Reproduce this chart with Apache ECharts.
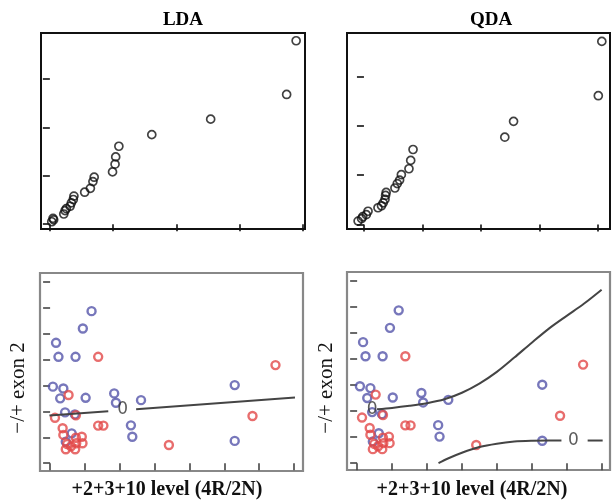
<!DOCTYPE html>
<html><head><meta charset="utf-8">
<script src="https://cdn.jsdelivr.net/npm/echarts@6/dist/echarts.min.js"></script>
<style>html,body{margin:0;padding:0;background:#fff}#c{width:614px;height:500px}</style>
</head><body><div id="c"></div>
<script>
// ---- data (in tick units) ----
const panelTitles = ['LDA', 'QDA'];
const xAxisTitle = '+2+3+10 level (4R/2N)';
const yAxisTitle = '\u2212/+ exon 2';
const topXTicks = [0, 1, 2, 3, 4];
const topYTicks = [0, 1, 2, 3];
const bottomTicks = [0, 1, 2, 3, 4, 5, 6, 7];

const ldaPoints = [[0.03,0.05],[0.05,0.12],[0.06,0.09],[0.22,0.21],[0.24,0.28],[0.26,0.32],[0.32,0.37],[0.34,0.44],[0.37,0.51],[0.38,0.58],[0.55,0.66],[0.64,0.74],[0.68,0.88],[0.70,0.97],[0.99,1.08],[1.03,1.24],[1.04,1.39],[1.09,1.61],[1.61,1.85],[2.54,2.17],[3.74,2.68],[3.89,3.79]];
const qdaPoints = [[-0.10,0.07],[-0.04,0.12],[-0.02,0.16],[0.04,0.20],[0.07,0.27],[0.24,0.34],[0.30,0.38],[0.33,0.44],[0.36,0.51],[0.37,0.59],[0.38,0.65],[0.53,0.74],[0.57,0.83],[0.61,0.90],[0.64,1.01],[0.77,1.13],[0.80,1.30],[0.84,1.52],[2.41,1.77],[2.56,2.09],[4.01,2.61],[4.07,3.71]];

const bluePoints = [[1.19,5.86],[0.94,5.19],[0.17,4.64],[0.24,4.10],[0.73,4.10],[0.08,2.95],[0.38,2.88],[0.29,2.50],[1.02,2.52],[1.84,2.69],[1.89,2.33],[2.61,2.43],[0.43,1.96],[0.71,1.88],[2.32,1.46],[2.36,1.02],[0.62,1.15],[0.45,0.83],[5.30,3.01],[5.30,0.86]];
const redPoints = [[1.38,4.10],[6.47,3.78],[0.53,2.63],[0.14,1.75],[0.74,1.85],[1.38,1.45],[1.53,1.45],[0.36,1.35],[0.38,1.09],[5.81,1.82],[3.41,0.70],[0.74,0.98],[0.91,1.02],[0.93,0.77],[0.75,0.77],[0.49,0.74],[0.45,0.54],[0.72,0.54],[0.60,0.65]];

const ldaBoundaryA = [[-0.02,1.84],[1.67,2.00]];
const ldaBoundaryB = [[2.47,2.08],[7.03,2.53]];
const ldaLabel = [[2.08,2.05]];

const qdaUpper = [[0.57,2.07],[1.0,2.12],[1.5,2.2],[2.0,2.3],[2.5,2.45],[3.0,2.7],[3.5,3.05],[4.0,3.5],[4.5,4.05],[5.0,4.62],[5.5,5.17],[6.0,5.65],[6.5,6.12],[7.0,6.65]];
const qdaUpperLabel = [[0.43,2.07]];
const qdaLowerA = [[2.33,0.0],[2.6,0.18],[3.0,0.4],[3.5,0.62],[4.0,0.75],[4.5,0.83],[5.0,0.86],[5.5,0.87],[5.85,0.87]];
const qdaLowerB = [[6.6,0.87],[7.03,0.87]];
const qdaLowerLabel = [[6.19,0.87]];

// ---- chart ----
const chart = echarts.init(document.getElementById('c'), null, {renderer: 'canvas'});
const serif = '"Liberation Serif", "Times New Roman", serif';

function ax(grid, min, max, ticks, color) {
  return {type: 'value', gridIndex: grid, min: min, max: max,
    axisLine: {show: false}, splitLine: {show: false},
    axisLabel: {show: false},
    axisTick: {show: true, inside: false, length: 7, customValues: ticks, lineStyle: {color: color, width: 1.6}}};
}

const topCircle = (data, idx) => ({type: 'scatter', xAxisIndex: idx, yAxisIndex: idx, data: data,
  symbol: 'circle', symbolSize: 8, itemStyle: {color: 'transparent', borderColor: '#111', borderWidth: 1.7}});
const colCircle = (data, idx, col) => ({type: 'scatter', xAxisIndex: idx, yAxisIndex: idx, data: data,
  symbol: 'circle', symbolSize: 8, itemStyle: {color: 'transparent', borderColor: col, borderWidth: 2.4}, z: 3});
const bLine = (data, idx) => ({type: 'line', xAxisIndex: idx, yAxisIndex: idx, data: data, showSymbol: false,
  smooth: 0.3, lineStyle: {color: '#444', width: 2}, z: 4});
const zeroLbl = (data, idx) => ({type: 'scatter', xAxisIndex: idx, yAxisIndex: idx, data: data,
  symbolSize: 1, itemStyle: {color: 'transparent'},
  label: {show: true, position: 'inside', formatter: '0', color: '#333', fontSize: 17, fontFamily: 'DejaVu Sans'}, z: 5});

const option = {
  backgroundColor: '#fff',
  animation: false,
  title: [
    {text: panelTitles[0], left: 178, top: 6, textAlign: 'center', textStyle: {fontFamily: serif, fontWeight: 'bold', fontSize: 19, color: '#000'}},
    {text: panelTitles[1], left: 486, top: 6, textAlign: 'center', textStyle: {fontFamily: serif, fontWeight: 'bold', fontSize: 19, color: '#000'}}
  ],
  grid: [
    {left: 41, top: 33, width: 264, height: 196, show: true, borderColor: '#111', borderWidth: 2},
    {left: 347, top: 33, width: 263, height: 196, show: true, borderColor: '#111', borderWidth: 2},
    {left: 40, top: 273, width: 263, height: 198, show: true, borderColor: '#888', borderWidth: 2.2},
    {left: 347, top: 272, width: 263, height: 198, show: true, borderColor: '#888', borderWidth: 2.2}
  ],
  xAxis: [
    ax(0, -0.14, 4.03, topXTicks, '#111'),
    ax(1, -0.29, 4.21, topXTicks, '#111'),
    ax(2, -0.29, 7.26, bottomTicks, '#444'),
    ax(3, -0.29, 7.24, bottomTicks, '#444')
  ],
  yAxis: [
    ax(0, -0.1, 3.95, topYTicks, '#111'),
    ax(1, -0.09, 3.88, topYTicks, '#111'),
    ax(2, -0.3, 7.33, bottomTicks, '#444'),
    ax(3, -0.26, 7.33, bottomTicks, '#444')
  ],
  graphic: [
    {type: 'text', x: 18, y: 388, rotation: Math.PI / 2, style: {text: yAxisTitle, font: '21px ' + serif, fill: '#111', textAlign: 'center', textVerticalAlign: 'middle'}},
    {type: 'text', x: 326, y: 388, rotation: Math.PI / 2, style: {text: yAxisTitle, font: '21px ' + serif, fill: '#111', textAlign: 'center', textVerticalAlign: 'middle'}},
    {type: 'text', x: 167, y: 490, style: {text: xAxisTitle, font: 'bold 20px ' + serif, fill: '#111', textAlign: 'center', textVerticalAlign: 'middle'}},
    {type: 'text', x: 472, y: 490, style: {text: xAxisTitle, font: 'bold 20px ' + serif, fill: '#111', textAlign: 'center', textVerticalAlign: 'middle'}}
  ],
  series: [
    topCircle(ldaPoints, 0),
    topCircle(qdaPoints, 1),
    colCircle(bluePoints, 2, '#5555aa'),
    colCircle(redPoints, 2, '#e24848'),
    colCircle(bluePoints, 3, '#5555aa'),
    colCircle(redPoints, 3, '#e24848'),
    bLine(ldaBoundaryA, 2), bLine(ldaBoundaryB, 2), zeroLbl(ldaLabel, 2),
    bLine(qdaUpper, 3), zeroLbl(qdaUpperLabel, 3),
    bLine(qdaLowerA, 3), bLine(qdaLowerB, 3), zeroLbl(qdaLowerLabel, 3)
  ]
};
chart.setOption(option);
</script>
</body></html>
